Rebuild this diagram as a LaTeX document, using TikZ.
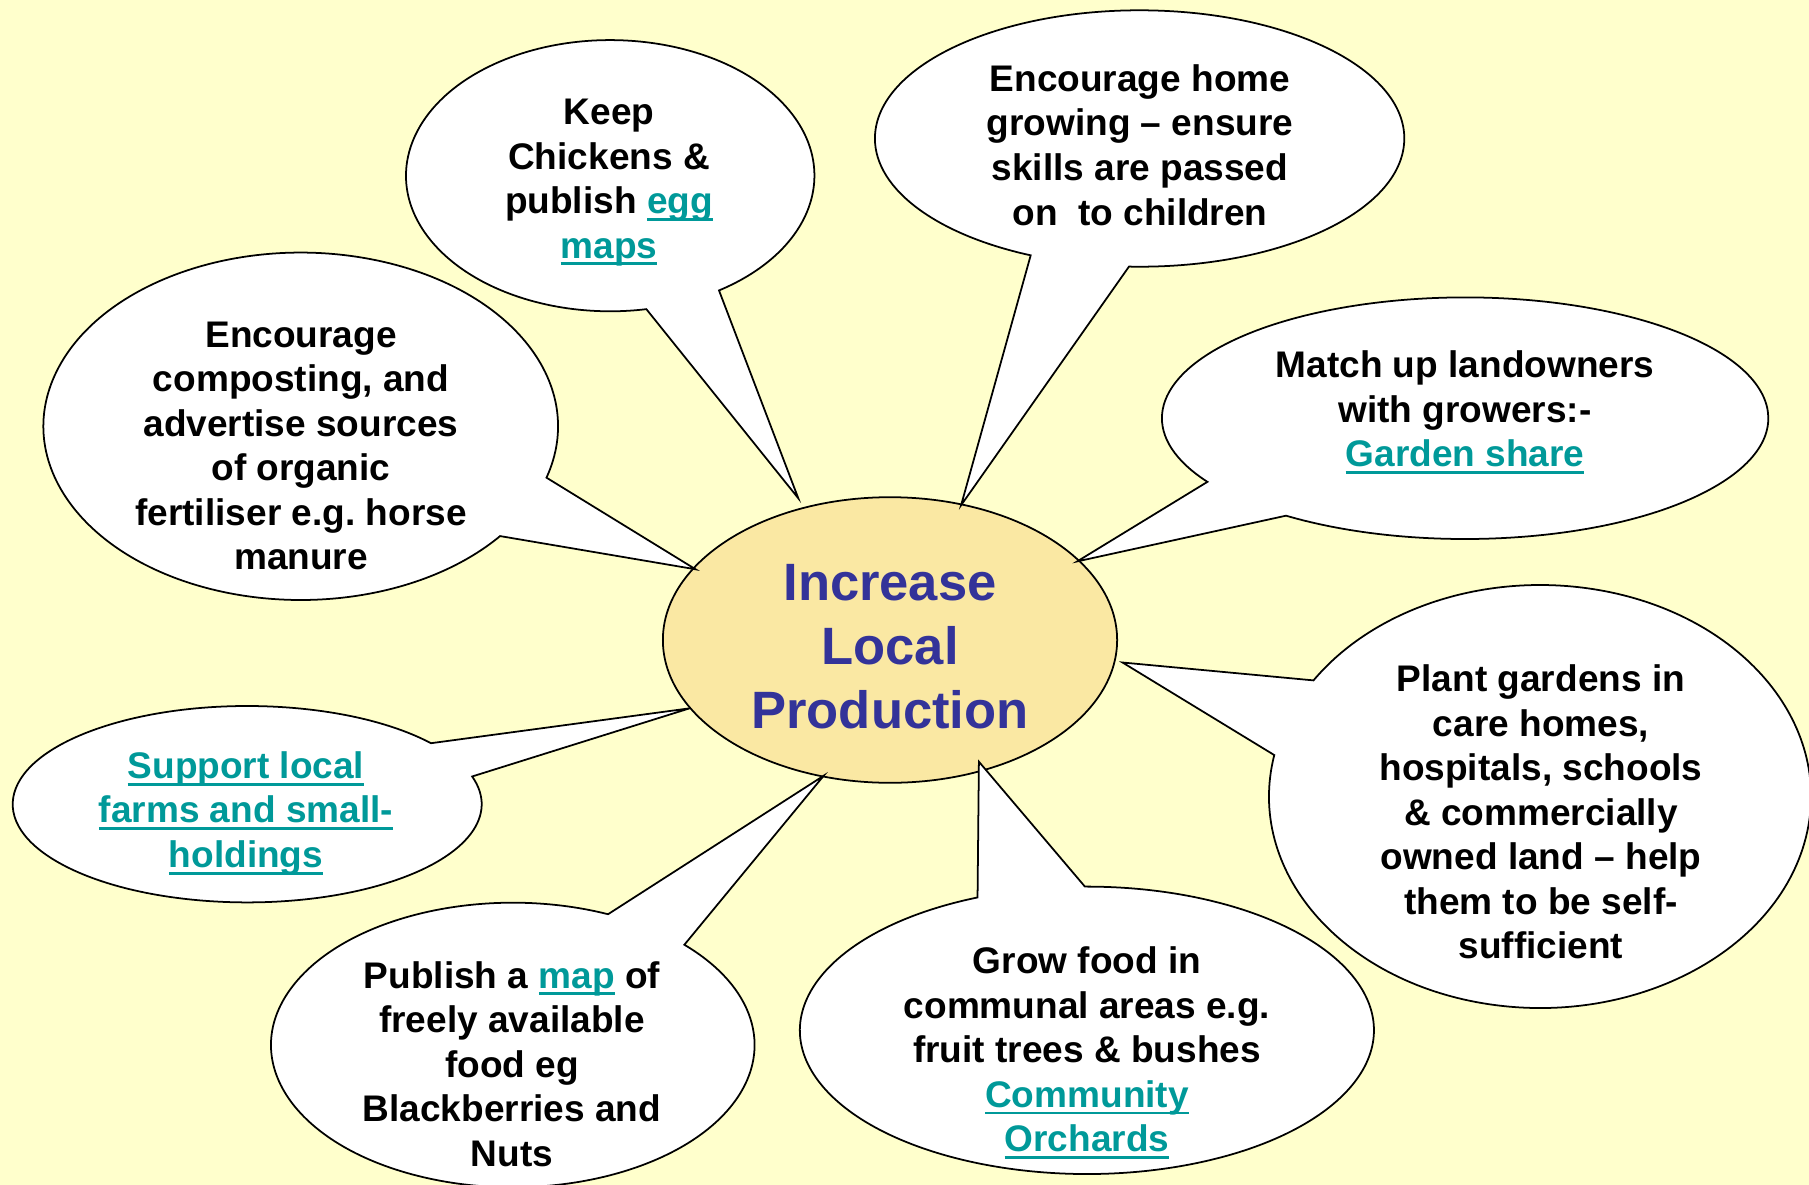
\documentclass[tikz,border=0pt]{standalone}
\usepackage{fontspec}
\setmainfont{Liberation Sans}
\frenchspacing
\definecolor{paper}{rgb}{1.0, 1.0, 0.8}
\definecolor{hubfill}{rgb}{0.98, 0.91, 0.64}
\definecolor{hubtext}{rgb}{0.2, 0.2, 0.6}
\definecolor{linkteal}{rgb}{0.0, 0.6, 0.6}
\usepackage{tikz}
\usetikzlibrary{shapes.geometric, calc}

\newcommand{\weblink}[1]{\textcolor{linkteal}{\setbox0\hbox{#1}\rlap{\rule[-0.19em]{\wd0}{0.08em}}\box0}}

\tikzset{
    bubble/.style = {draw = black, fill = white, line width = 0.5pt},
    words/.style = {align = center, inner sep = 0pt, font = \fontsize{10.53}{12.66}\selectfont\bfseries},
    hub/.style = {ellipse, draw = black, fill = hubfill, line width = 0.5pt, minimum width = 4.54cm, minimum height = 2.84cm,
        align = center, text = hubtext, font = \fontsize{14.94}{18.21}\selectfont\bfseries}
}

\begin{document}
\begin{tikzpicture}[x = 0.01cm, y = 0.01cm]
    \clip (0, 0) rectangle (1809, -1185);
    \fill [paper] (0, 0) rectangle (1809, -1185);

    \node (centre) [hub] at (890, -640) {\rule{0pt}{0.95em}Increase\\Local\\Production};

    % bubbles: name/x/y/x radius/y radius/pointer angle/tip (from centre)
    \foreach \name/\cx/\cy/\rx/\ry/\m/\tx/\ty in {
        chickens/610.2/-175.7/204.2/135.6/-68.8/-91.7/141.7,
        growing/1139.6/-138.5/264.7/128.2/-103.3/71.1/134.8,
        landowners/1465.1/-418.2/303.2/120.8/-137.2/187.2/78.6,
        gardens/1540/-796.5/271/211.5/157.7/232.5/-22.5,
        communal/1086.9/-1030.3/287/143.7/101.4/88.9/-121.7,
        freefood/512.8/-1045/241.8/142.3/55.8/-66.3/-135.7,
        farms/247.2/-804.2/234.5/98.2/27.4/-200.3/-68.3,
        compost/300.7/-426.3/257.3/173.7/-28.2/-194.4/70.7}
    {
        \coordinate (c-\name) at (\cx, \cy);
        \draw [bubble] ($(c-\name) + ({\m + 11} : {\rx} and {\ry})$) arc [start angle = \m + 11, end angle = \m + 349, x radius = \rx, y radius = \ry]
            -- ($(centre) + (\tx, \ty)$) -- cycle;
    }

    \node (chickens) [words] at (609, -182.5) {Keep\\Chickens \&\\publish \weblink{egg}\\\weblink{maps}};
    \node (growing) [words] at (1140, -145) {Encourage home\\growing – ensure\\skills are passed\\on\ \ to children};
    \node (landowners) [words] at (1465, -412.5) {Match up landowners\\with growers:-\\\weblink{Garden share}};
    \node (gardens) [words] at (1541, -812) {Plant gardens in\\care homes,\\hospitals, schools\\\& commercially\\owned land – help\\them to be self-\\sufficient};
    \node (communal) [words] at (1087, -1053) {Grow food in\\communal areas e.g.\\fruit trees \& bushes\\\weblink{Community}\\\weblink{Orchards}};
    \node (freefood) [words] at (512, -1064) {Publish a \weblink{map} of\\freely available\\food eg\\Blackberries and\\Nuts};
    \node (farms) [words] at (246, -813.5) {\weblink{Support local}\\\weblink{farms and small-}\\\weblink{holdings}};
    \node (compost) [words] at (301, -446) {Encourage\\composting, and\\advertise sources\\of organic\\fertiliser e.g. horse\\manure};
\end{tikzpicture}
\end{document}
